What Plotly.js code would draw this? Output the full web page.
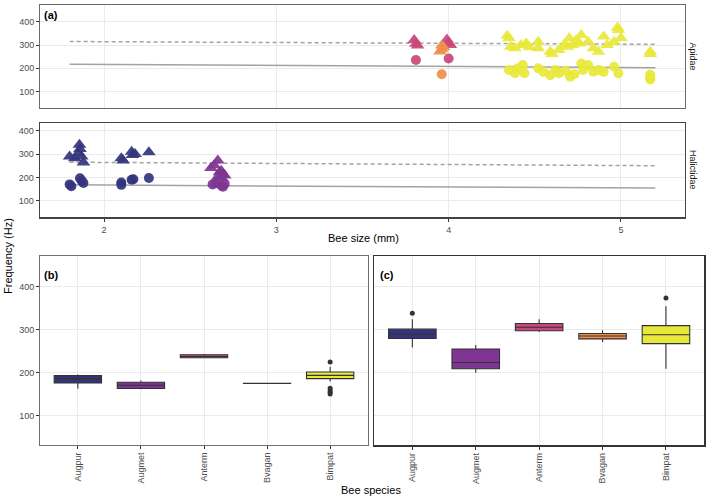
<!DOCTYPE html>
<html>
<head>
<meta charset="utf-8">
<script src="https://cdn.plot.ly/plotly-3.0.1.min.js"></script>
<style>html,body{margin:0;padding:0;background:#fff;}#chart{width:709px;height:502px;}</style>
</head>
<body>
<div id="chart"></div>
<script>
// ---------- Data ----------
const species = ['Augpur', 'Augmet', 'Anterm', 'Bvagan', 'Bimpat'];
const speciesColors = ['#33347C', '#7F3592', '#C9477A', '#EF8F4C', '#E8E83A'];

// Panel (a) Halictidae
const augpurTriSize = [1.80, 1.83, 1.857, 1.86, 1.85, 1.87, 1.88, 2.10, 2.11, 2.16, 2.165, 2.18, 2.26];
const augpurTriFreq = [290, 282, 340, 322, 303, 290, 264, 282, 272, 310, 296, 300, 308];
const augpurCirSize = [1.80, 1.81, 1.86, 1.87, 1.88, 2.10, 2.10, 2.16, 2.17, 2.26];
const augpurCirFreq = [170, 162, 196, 185, 176, 178, 168, 190, 192, 197];
const augmetTriSize = [2.66, 2.64, 2.62, 2.68, 2.67, 2.69, 2.70, 2.66, 2.68];
const augmetTriFreq = [272, 252, 240, 228, 222, 215, 208, 203, 199];
const augmetCirSize = [2.63, 2.65, 2.68, 2.69, 2.70];
const augmetCirFreq = [170, 176, 165, 160, 172];

// Panel (a) Apidae
const antermTriSize = [3.80, 3.81, 3.82, 3.99, 4.00, 4.01];
const antermTriFreq = [322, 305, 298, 324, 310, 300];
const antermCirSize = [3.81, 4.00];
const antermCirFreq = [236, 242];
const bvaganTriSize = [3.95, 3.96, 3.97, 3.96];
const bvaganTriFreq = [272, 282, 290, 298];
const bvaganCirSize = [3.96];
const bvaganCirFreq = [175];
const bimpatTriSize = [4.35, 4.36, 4.385, 4.42, 4.45, 4.52, 4.52, 4.59, 4.64, 4.70, 4.69, 4.72, 4.77, 4.76, 4.81, 4.84, 4.87, 4.90, 4.96, 4.985, 4.98, 5.17, 5.17, 4.34, 4.47, 4.60, 4.67, 4.74, 4.92, 5.00];
const bimpatTriFreq = [329, 293, 286, 300, 307, 314, 286, 271, 279, 329, 293, 300, 343, 307, 314, 286, 271, 336, 314, 364, 375, 271, 262, 340, 290, 262, 300, 320, 300, 330];
const bimpatCirSize = [4.35, 4.385, 4.43, 4.44, 4.52, 4.59, 4.62, 4.64, 4.705, 4.77, 4.78, 4.81, 4.84, 4.87, 4.96, 4.985, 5.17, 5.17, 5.17, 4.40, 4.55, 4.68, 4.73, 4.90];
const bimpatCirFreq = [193, 179, 214, 179, 200, 171, 193, 179, 164, 221, 193, 214, 186, 193, 207, 179, 172, 160, 152, 200, 185, 190, 175, 185];

// Fitted lines
const lineSize = [1.8, 5.2];
const apidaeSolid = [218, 203];
const apidaeDashed = [315, 303];
const halictidaeSolid = [168, 154];
const halictidaeDashed = [265, 250];

// Panel (b) box statistics
const bQ1 = [175.5, 162.5, 234, 174.3, 185.5];
const bMedian = [185, 170, 237, 174.6, 193];
const bQ3 = [192.4, 177, 241, 174.9, 201];
const bLower = [162, 161, 233, 174.3, 179];
const bUpper = [195, 181, 243, 174.9, 213];
const bOutlierSpecies = ['Bimpat', 'Bimpat', 'Bimpat', 'Bimpat', 'Bimpat'];
const bOutlierFreq = [224, 163, 158, 154, 150];

// Panel (c) box statistics
const cQ1 = [279, 208.5, 297, 278, 267];
const cMedian = [289, 223, 305, 284.6, 287.6];
const cQ3 = [300.7, 254.6, 314, 290.6, 309];
const cLower = [258, 199, 294, 271, 208.5];
const cUpper = [324, 264, 324, 298, 354];
const cOutlierSpecies = ['Augpur', 'Bimpat'];
const cOutlierFreq = [338, 373];

// ---------- Build ----------
const W = 709, H = 502;
const xd = (a, b) => [a / W, b / W];
const yd = (top, bottom) => [(H - bottom) / H, (H - top) / H];
const FONT = 'Liberation Sans, Arial, sans-serif';
const GRID = '#EBEBEB';

const traces = [];
function line(x, y, xa, ya, dash) {
  traces.push({type: 'scatter', mode: 'lines', x: x, y: y, xaxis: xa, yaxis: ya,
    line: {color: '#A3A3A3', width: 1.5, dash: dash}, hoverinfo: 'skip', showlegend: false});
}
function pts(x, y, xa, ya, color, symbol) {
  traces.push({type: 'scatter', mode: 'markers', x: x, y: y, xaxis: xa, yaxis: ya,
    marker: {color: color, symbol: symbol, size: symbol === 'circle' ? 10 : 12, opacity: 0.92, line: {width: 0}},
    showlegend: false});
}
line(lineSize, apidaeSolid, 'x', 'y', 'solid');
line(lineSize, apidaeDashed, 'x', 'y', '4px,3px');
line(lineSize, halictidaeSolid, 'x2', 'y2', 'solid');
line(lineSize, halictidaeDashed, 'x2', 'y2', '4px,3px');

pts(antermCirSize, antermCirFreq, 'x', 'y', speciesColors[2], 'circle');
pts(bvaganCirSize, bvaganCirFreq, 'x', 'y', speciesColors[3], 'circle');
pts(bimpatCirSize, bimpatCirFreq, 'x', 'y', speciesColors[4], 'circle');
pts(antermTriSize, antermTriFreq, 'x', 'y', speciesColors[2], 'triangle-up');
pts(bvaganTriSize, bvaganTriFreq, 'x', 'y', speciesColors[3], 'triangle-up');
pts(bimpatTriSize, bimpatTriFreq, 'x', 'y', speciesColors[4], 'triangle-up');

pts(augpurCirSize, augpurCirFreq, 'x2', 'y2', speciesColors[0], 'circle');
pts(augmetCirSize, augmetCirFreq, 'x2', 'y2', speciesColors[1], 'circle');
pts(augpurTriSize, augpurTriFreq, 'x2', 'y2', speciesColors[0], 'triangle-up');
pts(augmetTriSize, augmetTriFreq, 'x2', 'y2', speciesColors[1], 'triangle-up');

function boxes(q1, med, q3, lo, up, xa, ya) {
  species.forEach((s, i) => {
    traces.push({type: 'box', x: [s], q1: [q1[i]], median: [med[i]], q3: [q3[i]],
      lowerfence: [lo[i]], upperfence: [up[i]], xaxis: xa, yaxis: ya,
      fillcolor: speciesColors[i], line: {color: '#333333', width: 1.1},
      whiskerwidth: 0, width: 0.75, boxpoints: false, showlegend: false});
  });
}
boxes(bQ1, bMedian, bQ3, bLower, bUpper, 'x3', 'y3');
boxes(cQ1, cMedian, cQ3, cLower, cUpper, 'x4', 'y4');
traces.push({type: 'scatter', mode: 'markers', x: bOutlierSpecies, y: bOutlierFreq, xaxis: 'x3', yaxis: 'y3',
  marker: {color: '#333333', size: 5}, showlegend: false});
traces.push({type: 'scatter', mode: 'markers', x: cOutlierSpecies, y: cOutlierFreq, xaxis: 'x4', yaxis: 'y4',
  marker: {color: '#333333', size: 5}, showlegend: false});

const tickFont = {family: FONT, size: 9, color: '#4D4D4D'};
const freqTicks = [100, 200, 300, 400];
function yAxis(domain, range, anchor, labels, lc, lw) {
  return {domain: domain, range: range, anchor: anchor, tickvals: freqTicks,
    ticks: labels ? 'outside' : '', ticklen: 3, tickcolor: '#333', tickwidth: 1,
    showticklabels: labels, tickfont: tickFont, showgrid: true, gridcolor: GRID, gridwidth: 1,
    zeroline: false, showline: true, mirror: true, linecolor: lc, linewidth: lw, fixedrange: true};
}
function xNum(domain, anchor, labels, lc, lw) {
  return {domain: domain, range: [1.628, 5.372], anchor: anchor, tickvals: [2, 3, 4, 5],
    ticks: labels ? 'outside' : '', ticklen: 3, tickcolor: '#333', showticklabels: labels, tickfont: tickFont,
    showgrid: true, gridcolor: GRID, zeroline: false, showline: true, mirror: true, linecolor: lc, linewidth: lw};
}
function xCat(domain, anchor, lc, lw) {
  return {domain: domain, type: 'category', categoryorder: 'array', categoryarray: species,
    range: [-0.6, 4.6], anchor: anchor, ticks: 'outside', ticklen: 3, tickcolor: '#333',
    tickangle: -90, tickfont: tickFont, showgrid: true, gridcolor: GRID, zeroline: false,
    showline: true, mirror: true, linecolor: lc, linewidth: lw};
}
function ann(text, px, py, size, color, angle) {
  return {text: text, x: px / W, y: (H - py) / H, xref: 'paper', yref: 'paper', showarrow: false,
    xanchor: 'center', yanchor: 'middle', textangle: angle || 0,
    font: {size: size, color: color, family: FONT}};
}

const layout = {
  width: W, height: H, margin: {l: 0, r: 0, t: 0, b: 0},
  paper_bgcolor: '#fff', plot_bgcolor: '#fff', showlegend: false,
  font: {family: FONT},
  xaxis: xNum(xd(40, 685), 'y', false, '#6A6A6A', 1),
  yaxis: yAxis(yd(5, 108), [30, 471.5], 'x', true, '#6A6A6A', 1),
  xaxis2: xNum(xd(40, 685), 'y2', true, '#444', 1.4),
  yaxis2: yAxis(yd(123.3, 217.3), [28.9, 431.8], 'x2', true, '#444', 1.4),
  xaxis3: xCat(xd(40, 368), 'y3', '#707070', 1),
  yaxis3: yAxis(yd(256, 445), [31, 471], 'x3', true, '#707070', 1),
  xaxis4: xCat(xd(374.3, 704), 'y4', '#333', 1.5),
  yaxis4: yAxis(yd(256, 445), [31, 471], 'x4', false, '#333', 1.5),
  annotations: [
    ann('<b>(a)</b>', 51, 15, 11, '#000'),
    ann('<b>(b)</b>', 51, 275, 11, '#000'),
    ann('<b>(c)</b>', 387, 275, 11, '#000'),
    ann('Apidae', 693, 56.5, 9, '#1A1A1A', 90),
    ann('Halictidae', 693, 170, 9, '#1A1A1A', 90),
    ann('Bee size (mm)', 363, 237.5, 11, '#000'),
    ann('Bee species', 371, 489.5, 11, '#000'),
    ann('Frequency (Hz)', 8, 256, 11, '#000', -90)
  ]
};

Plotly.newPlot('chart', traces, layout, {displayModeBar: false, staticPlot: true});
</script>
</body>
</html>
